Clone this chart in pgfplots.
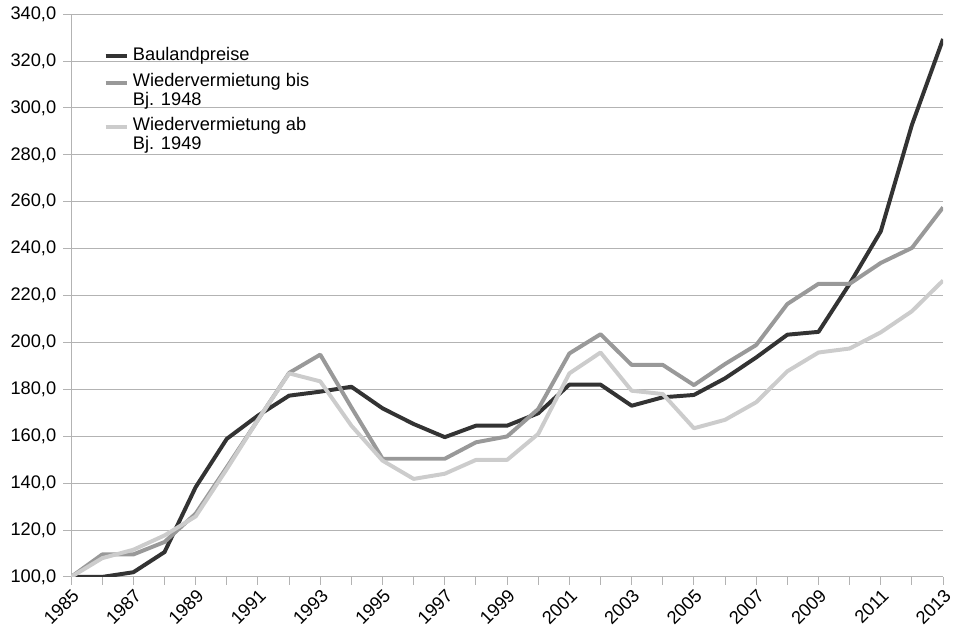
\documentclass[border=0pt]{standalone}
\usepackage{fontspec}
\setmainfont{Liberation Sans}
\usepackage{pgfplots}
\usepackage{pgfplotstable}
\pgfplotsset{compat=1.18}
\definecolor{cdark}{HTML}{333333}
\definecolor{cmid}{HTML}{999999}
\definecolor{clight}{HTML}{CCCCCC}
\definecolor{cgrid}{HTML}{B3B3B3}
\pgfplotsset{raisedlegend/.style={legend image code/.code={\draw[##1, line width=2pt] (0cm,4pt) -- (0.38cm,4pt);}}}
\pgfplotstableread{
year bau bis ab
1985 100 100 100
1986 100 109.6 108
1987 102 109.6 111.6
1988 110.6 114.9 117.7
1989 138.3 127 125.8
1990 158.9 146.8 146
1991 168.8 167 167
1992 177.3 187 186.8
1993 179 194.8 183.4
1994 181.1 172.3 164.5
1995 171.9 150.4 149.6
1996 165.2 150.4 141.8
1997 159.6 150.4 144
1998 164.5 157.4 149.9
1999 164.5 159.9 149.9
2000 169.8 171.6 161
2001 182 195.3 186.8
2002 182 203.5 195.7
2003 173 190.4 179.4
2004 176.6 190.4 178
2005 177.6 181.8 163.4
2006 184.7 190.8 167
2007 193.6 198.9 174.5
2008 203.3 216.4 187.7
2009 204.5 225 195.7
2010 225 225 197.4
2011 247.4 233.9 204.3
2012 292.8 240.3 213.3
2013 329.4 257.6 226.4
}\datatable
\begin{document}
\begin{tikzpicture}
\begin{axis}[
  scale only axis, width=440pt, height=284pt,
  xmin=1985, xmax=2013, ymin=100, ymax=340,
  ytick={100,120,...,340},
  xtick={1985,1987,...,2013},
  minor xtick={1986,1988,...,2012},
  ymajorgrids,
  major grid style={cgrid, line width=0.5pt},
  axis x line*=bottom, axis y line*=left,
  axis line style={cgrid, line width=0.5pt, -},
  tick style={cgrid, line width=0.5pt},
  tick align=outside, major tick length=4pt, minor tick length=4pt,
  font=\fontsize{9.2}{11}\selectfont,
  yticklabel style={/pgf/number format/.cd, fixed, fixed zerofill, precision=1, use comma, 1000 sep={}, assume math mode=true},
  xticklabel style={rotate=45, anchor=north east, inner sep=1pt, /pgf/number format/.cd, 1000 sep={}, assume math mode=true},
  legend cell align=left,
  legend style={draw=none, fill=none, at={(0.03,0.955)}, anchor=north west,
    font=\fontsize{9.2}{8}\selectfont, nodes={align=left}, row sep=0.5pt},
  legend image code/.code={\draw[#1, line width=2pt] (0cm,0cm) -- (0.38cm,0cm);},
  every axis plot/.append style={line width=2pt, line join=round},
]
\addplot[cdark] table[x=year, y=bau] {\datatable};
\addlegendentry{Baulandpreise}
\addplot[cmid, raisedlegend] table[x=year, y=bis] {\datatable};
\addlegendentry{Wiedervermietung bis\\Bj. 1948}
\addplot[clight, raisedlegend] table[x=year, y=ab] {\datatable};
\addlegendentry{Wiedervermietung ab\\Bj. 1949}
\end{axis}
\path ([xshift=-2pt]current bounding box.west);
\end{tikzpicture}
\end{document}
